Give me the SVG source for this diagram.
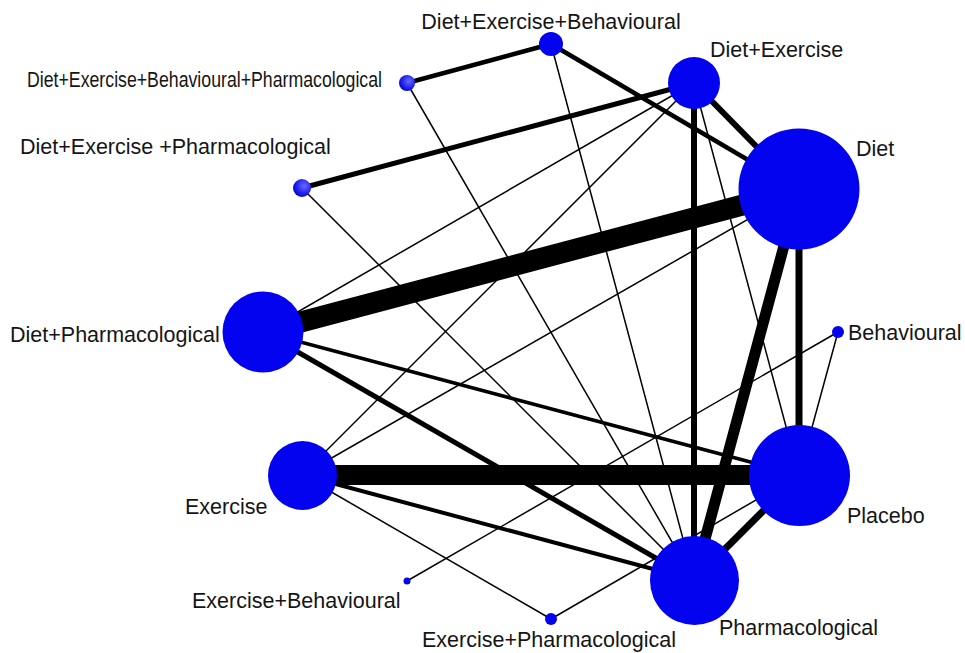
<svg xmlns="http://www.w3.org/2000/svg" width="965" height="653" viewBox="0 0 965 653">
<style>
.e{stroke:#000;fill:none;stroke-linecap:butt}
.t1{stroke-width:1.5}
.n{fill:#0303f0}
.g{fill:url(#sph)}
text{font-family:"Liberation Sans",Arial,sans-serif;font-size:21.5px;fill:#151515}
</style>
<defs>
<radialGradient id="sph" cx="0.62" cy="0.38" r="0.7">
<stop offset="0" stop-color="#6a6aff"/>
<stop offset="0.6" stop-color="#2222f0"/>
<stop offset="1" stop-color="#0000c8"/>
</radialGradient>
</defs>
<rect width="965" height="653" fill="#fff"/>
<g id="connectors">
<line class="e" x1="799" y1="190" x2="263" y2="332" stroke-width="21"/>
<line class="e" x1="302" y1="475" x2="799" y2="475" stroke-width="20"/>
<line class="e" x1="799" y1="190" x2="694" y2="580" stroke-width="11"/>
<line class="e" x1="799" y1="190" x2="799" y2="475" stroke-width="7"/>
<line class="e" x1="694" y1="580" x2="799" y2="475" stroke-width="7"/>
<line class="e" x1="694" y1="83" x2="694" y2="580" stroke-width="6"/>
<line class="e" x1="694" y1="83" x2="799" y2="190" stroke-width="6"/>
<line class="e" x1="694" y1="83" x2="302" y2="188" stroke-width="5"/>
<line class="e" x1="551" y1="44" x2="799" y2="190" stroke-width="4.5"/>
<line class="e" x1="551" y1="44" x2="407" y2="83" stroke-width="4.5"/>
<line class="e" x1="263" y1="332" x2="694" y2="580" stroke-width="5"/>
<line class="e" x1="263" y1="332" x2="799" y2="475" stroke-width="3.5"/>
<line class="e" x1="302" y1="475" x2="694" y2="580" stroke-width="4"/>
<line class="e t1" x1="551" y1="44" x2="694" y2="580"/>
<line class="e t1" x1="407" y1="83" x2="694" y2="580"/>
<line class="e t1" x1="302" y1="188" x2="694" y2="580"/>
<line class="e t1" x1="694" y1="83" x2="263" y2="332"/>
<line class="e t1" x1="694" y1="83" x2="302" y2="475"/>
<line class="e t1" x1="694" y1="83" x2="799" y2="475"/>
<line class="e t1" x1="799" y1="190" x2="302" y2="475"/>
<line class="e t1" x1="302" y1="475" x2="551" y2="619"/>
<line class="e t1" x1="551" y1="619" x2="799" y2="475"/>
<line class="e t1" x1="407" y1="581" x2="838" y2="332"/>
<line class="e t1" x1="838" y1="332" x2="799" y2="475"/>
</g>
<g id="n-deb"><circle class="n" cx="551" cy="44" r="12"/><text x="551" y="29" text-anchor="middle" fill="#333">Diet+Exercise+Behavioural</text></g>
<g id="n-debp"><circle class="g" cx="407" cy="83" r="8"/><text x="27" y="87" textLength="355" lengthAdjust="spacingAndGlyphs">Diet+Exercise+Behavioural+Pharmacological</text></g>
<g id="n-de"><circle class="n" cx="694" cy="83" r="26"/><text x="710" y="57">Diet+Exercise</text></g>
<g id="n-diet"><circle class="n" cx="799" cy="189" r="60.5"/><text x="856" y="156">Diet</text></g>
<g id="n-dep"><circle class="g" cx="302" cy="188" r="9"/><text x="20" y="154">Diet+Exercise +Pharmacological</text></g>
<g id="n-dp"><circle class="n" cx="263" cy="332" r="40.5"/><text x="10" y="342">Diet+Pharmacological</text></g>
<g id="n-beh"><circle class="n" cx="838" cy="332" r="6"/><text x="848" y="340">Behavioural</text></g>
<g id="n-ex"><circle class="n" cx="302.5" cy="475.5" r="34.5"/><text x="185" y="514">Exercise</text></g>
<g id="n-pla"><circle class="n" cx="799.5" cy="475.5" r="50.5"/><text x="847" y="523">Placebo</text></g>
<g id="n-pha"><circle class="n" cx="694.5" cy="580.5" r="44.5"/><text x="719" y="635">Pharmacological</text></g>
<g id="n-eb"><circle class="n" cx="407" cy="581" r="3.5"/><text x="192" y="608">Exercise+Behavioural</text></g>
<g id="n-ep"><circle class="n" cx="551" cy="619" r="6"/><text x="422" y="647">Exercise+Pharmacological</text></g>
</svg>
